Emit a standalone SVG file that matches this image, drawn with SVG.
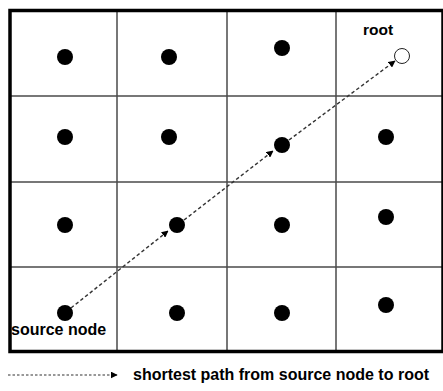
<svg xmlns="http://www.w3.org/2000/svg" width="443" height="391" viewBox="0 0 443 391">
  <style>
    .grid { stroke: #4a4a4a; stroke-width: 1.5; fill: none; }
    .frame { stroke: #000; stroke-width: 3.5; fill: none; }
    .node { fill: #000; }
    .root { fill: #fff; stroke: #222; stroke-width: 1; }
    .path { stroke: #333; stroke-width: 1.4; stroke-dasharray: 3.5 2.5; fill: none; }
    .legend-line { stroke: #333; stroke-width: 1.2; stroke-dasharray: 2.5 2; fill: none; }
    .label { font-family: "Liberation Sans", Arial, sans-serif; font-weight: bold; fill: #000; }
  </style>
  <defs>
    <marker id="arrow" viewBox="0 0 10 10" refX="9" refY="5" markerWidth="7" markerHeight="7" markerUnits="userSpaceOnUse" orient="auto">
      <path d="M0,0 L10,5 L0,10 z" fill="#000"/>
    </marker>
  </defs>
  <rect width="443" height="391" fill="#fff"/>

  <!-- grid -->
  <g id="grid">
    <line class="grid" x1="117" y1="11" x2="117" y2="352"/>
    <line class="grid" x1="227" y1="11" x2="227" y2="352"/>
    <line class="grid" x1="336" y1="11" x2="336" y2="352"/>
    <line class="grid" x1="10" y1="96" x2="442" y2="96"/>
    <line class="grid" x1="10" y1="182" x2="442" y2="182"/>
    <line class="grid" x1="10" y1="267" x2="442" y2="267"/>
    <rect class="frame" x="10" y="10.5" width="433" height="341"/>
  </g>

  <!-- nodes -->
  <g id="n11"><circle class="node" cx="65" cy="57" r="8"/></g>
  <g id="n12"><circle class="node" cx="169" cy="57" r="8"/></g>
  <g id="n13"><circle class="node" cx="282" cy="48" r="8"/></g>
  <g id="root"><circle class="root" cx="402" cy="56" r="7.5"/><text class="label" x="363" y="35" font-size="15.5">root</text></g>
  <g id="n21"><circle class="node" cx="65" cy="137" r="8"/></g>
  <g id="n22"><circle class="node" cx="169" cy="137" r="8"/></g>
  <g id="n23"><circle class="node" cx="282" cy="145" r="8"/></g>
  <g id="n24"><circle class="node" cx="386" cy="137" r="8"/></g>
  <g id="n31"><circle class="node" cx="65" cy="225" r="8"/></g>
  <g id="n32"><circle class="node" cx="177" cy="225" r="8"/></g>
  <g id="n33"><circle class="node" cx="282" cy="225" r="8"/></g>
  <g id="n34"><circle class="node" cx="386" cy="217" r="8"/></g>
  <g id="source"><circle class="node" cx="65" cy="313" r="8"/><text class="label" x="11" y="335" font-size="16">source node</text></g>
  <g id="n42"><circle class="node" cx="177" cy="313" r="8"/></g>
  <g id="n43"><circle class="node" cx="282" cy="313" r="8"/></g>
  <g id="n44"><circle class="node" cx="386" cy="305" r="8"/></g>

  <!-- connectors -->
  <g id="connectors">
    <path class="path" d="M71,308 L168,231" marker-end="url(#arrow)"/>
    <path class="path" d="M184,220 L273,151" marker-end="url(#arrow)"/>
    <path class="path" d="M289,140 L395,61" marker-end="url(#arrow)"/>
  </g>

  <!-- legend -->
  <g id="legend">
    <path class="legend-line" d="M8,375 L117,375" marker-end="url(#arrow)"/>
    <text class="label" x="133" y="380" font-size="16">shortest path from source node to root</text>
  </g>
</svg>
